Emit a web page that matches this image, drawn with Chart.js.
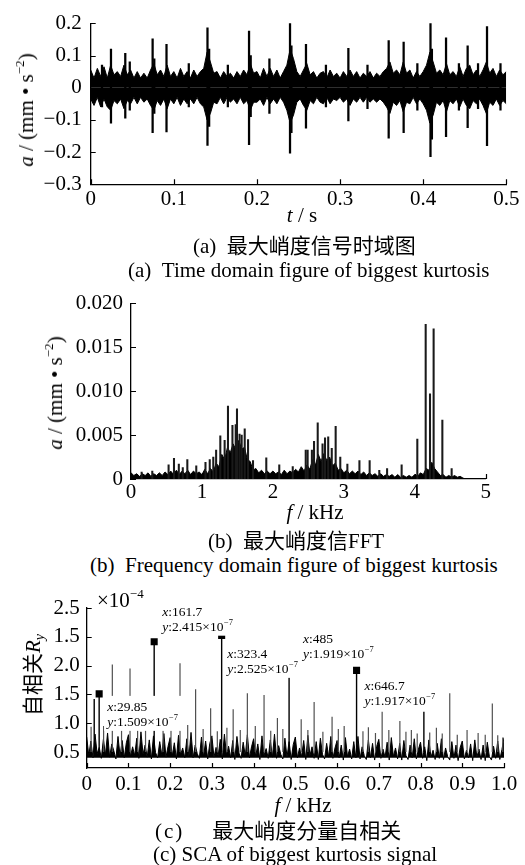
<!DOCTYPE html>
<html>
<head>
<meta charset="utf-8">
<script src="https://cdn.jsdelivr.net/npm/chart.js@4.4.1/dist/chart.umd.min.js"></script>
<style>
body { margin: 0; background: #fff; }
#page { position: relative; width: 525px; height: 865px; overflow: hidden;
        font-family: 'Liberation Serif', 'Noto Sans CJK SC', serif; color: #000; }
canvas { position: absolute; left: 0; }
.t { position: absolute; white-space: nowrap; font-size: 21px; line-height: 22px; }
.rot { transform: translate(-50%, -50%) rotate(-90deg); }
.ctr { transform: translateX(-50%); }
sup { font-size: 13px; vertical-align: 9px; line-height: 0; }
sub { font-size: 14px; vertical-align: -4px; line-height: 0; }
</style>
</head>
<body>
<div id="page">
  <canvas id="chartA" width="525" height="230" style="top:0px"></canvas>
  <canvas id="chartB" width="525" height="240" style="top:290px"></canvas>
  <canvas id="chartC" width="525" height="215" style="top:590px"></canvas>

  <div class="t rot" style="left:26px;top:110px"><i>a</i> / (mm • s<sup>−2</sup>)</div>
  <div class="t ctr" style="left:302px;top:204px"><i>t</i> / s</div>
  <div class="t" style="left:193px;top:235px">(a)&nbsp;&nbsp;最大峭度信号时域图</div>
  <div class="t" style="left:128px;top:259px">(a)&nbsp;&nbsp;Time domain figure of biggest kurtosis</div>

  <div class="t rot" style="left:55px;top:393px"><i>a</i> / (mm • s<sup>−2</sup>)</div>
  <div class="t ctr" style="left:315px;top:501px"><i>f</i> / kHz</div>
  <div class="t" style="left:208px;top:530px">(b)&nbsp;&nbsp;最大峭度信FFT</div>
  <div class="t" style="left:90px;top:554px">(b)&nbsp;&nbsp;Frequency domain figure of biggest kurtosis</div>

  <div class="t" style="left:97px;top:589px">×10<sup>−4</sup></div>
  <div class="t rot" style="left:33px;top:675px">自相关<i>R</i><sub><i>y</i></sub></div>
  <div class="t ctr" style="left:303px;top:794px"><i>f</i> / kHz</div>
  <div class="t" style="left:155px;top:820px"><span style="letter-spacing:2px">(c)</span><span style="margin-left:28px">最大峭度分量自相关</span></div>
  <div class="t" style="left:153px;top:843px">(c) SCA of biggest kurtosis signal</div>
</div>

<script>
// ============================================================
// (a) time signal: envelope columns every 4 ms + impulse spikes
// ============================================================
const stepA = 0.004;   // s
const upperA = [
  0.055, 0.03, 0.06, 0.035, 0.065, 0.03, 0.07, 0.04, 0.05, 0.035,
  0.07, 0.04, 0.055, 0.03, 0.05, 0.03, 0.045, 0.03, 0.055, 0.075,
  0.04, 0.055, 0.035, 0.07, 0.035, 0.05, 0.03, 0.06, 0.035, 0.05,
  0.03, 0.055, 0.035, 0.05, 0.06, 0.11, 0.08, 0.045, 0.05, 0.03,
  0.05, 0.035, 0.045, 0.03, 0.05, 0.035, 0.055, 0.04, 0.075, 0.045,
  0.05, 0.03, 0.06, 0.035, 0.06, 0.035, 0.055, 0.03, 0.05, 0.07,
  0.12, 0.09, 0.05, 0.035, 0.055, 0.075, 0.04, 0.05, 0.03, 0.045,
  0.05, 0.03, 0.055, 0.035, 0.045, 0.03, 0.05, 0.035, 0.055, 0.035,
  0.05, 0.03, 0.045, 0.035, 0.05, 0.03, 0.045, 0.035, 0.05, 0.06,
  0.08, 0.045, 0.055, 0.04, 0.08, 0.045, 0.055, 0.03, 0.05, 0.035,
  0.05, 0.07, 0.11, 0.08, 0.045, 0.055, 0.04, 0.075, 0.04, 0.05,
  0.035, 0.065, 0.035, 0.06, 0.07, 0.04, 0.055, 0.035, 0.055, 0.08,
  0.045, 0.06, 0.035, 0.055, 0.04, 0.05
];
const lowerA = [
  -0.035, -0.055, -0.03, -0.06, -0.035, -0.06, -0.07, -0.04, -0.05, -0.035,
  -0.065, -0.04, -0.05, -0.03, -0.05, -0.03, -0.045, -0.035, -0.055, -0.07,
  -0.04, -0.055, -0.035, -0.065, -0.035, -0.05, -0.03, -0.055, -0.035, -0.05,
  -0.035, -0.05, -0.03, -0.05, -0.06, -0.1, -0.08, -0.045, -0.05, -0.03,
  -0.05, -0.03, -0.045, -0.035, -0.05, -0.03, -0.05, -0.04, -0.07, -0.045,
  -0.045, -0.035, -0.055, -0.03, -0.05, -0.035, -0.05, -0.03, -0.045, -0.07,
  -0.11, -0.085, -0.045, -0.035, -0.055, -0.07, -0.04, -0.05, -0.03, -0.045,
  -0.05, -0.03, -0.05, -0.035, -0.04, -0.03, -0.045, -0.035, -0.055, -0.035,
  -0.045, -0.03, -0.045, -0.03, -0.045, -0.035, -0.045, -0.035, -0.045, -0.06,
  -0.08, -0.045, -0.055, -0.04, -0.075, -0.045, -0.05, -0.03, -0.05, -0.035,
  -0.05, -0.07, -0.11, -0.085, -0.045, -0.055, -0.04, -0.075, -0.04, -0.05,
  -0.035, -0.06, -0.035, -0.055, -0.065, -0.04, -0.05, -0.035, -0.055, -0.08,
  -0.045, -0.055, -0.035, -0.055, -0.04, -0.05
];
const spikeTimeA = [0.0136, 0.0244, 0.0416, 0.047, 0.0745, 0.0765, 0.0912, 0.118, 0.1405, 0.1425,
                    0.165, 0.1905, 0.1925, 0.215, 0.2398, 0.2415, 0.259, 0.283, 0.310, 0.333,
                    0.3585, 0.3765, 0.393, 0.4088, 0.4105, 0.4275, 0.443, 0.4535, 0.466, 0.4768, 0.493];
const spikeHighA = [0.07, 0.12, 0.107, 0.08, 0.152, 0.09, 0.135, 0.075, 0.186, 0.12,
                    0.07, 0.176, 0.1, 0.09, 0.202, 0.13, 0.135, 0.07, 0.122, 0.07,
                    0.146, 0.142, 0.075, 0.2, 0.12, 0.155, 0.075, 0.13, 0.075, 0.19, 0.075];
const spikeLowA = [-0.06, -0.11, -0.095, -0.07, -0.14, -0.08, -0.137, -0.06, -0.179, -0.12,
                   -0.06, -0.177, -0.09, -0.08, -0.203, -0.14, -0.126, -0.06, -0.103, -0.065,
                   -0.157, -0.14, -0.07, -0.214, -0.16, -0.152, -0.07, -0.124, -0.065, -0.18, -0.07];
const xTicksA = [0, 0.1, 0.2, 0.3, 0.4, 0.5];
const xLabelsA = ["0", "0.1", "0.2", "0.3", "0.4", "0.5"];
const yTicksA = [-0.3, -0.2, -0.1, 0, 0.1, 0.2];
const yLabelsA = ["−0.3", "−0.2", "−0.1", "0", "0.1", "0.2"];

// ============================================================
// (b) FFT: base spectrum every 0.04 kHz + discrete peaks
// ============================================================
const stepB = 0.04;    // kHz
const baseB = [
  0.0007, 0.0004, 0.0006, 0.0003, 0.0006, 0.0004, 0.0007, 0.0003, 0.0006, 0.0004,
  0.0007, 0.0004, 0.0008, 0.0005, 0.0009, 0.0005, 0.0010, 0.0005, 0.0009, 0.0006,
  0.0010, 0.0005, 0.0009, 0.0006, 0.0008, 0.0005, 0.0011, 0.0006, 0.0012, 0.0008,
  0.0018, 0.0014, 0.0028, 0.0022, 0.0036, 0.0030, 0.0040, 0.0033, 0.0044, 0.0034,
  0.0036, 0.0022, 0.0020, 0.0010, 0.0012, 0.0007, 0.0010, 0.0006, 0.0009, 0.0006,
  0.0009, 0.0006, 0.0008, 0.0005, 0.0010, 0.0006, 0.0009, 0.0007, 0.0011, 0.0008,
  0.0014, 0.0009, 0.0016, 0.0011, 0.0022, 0.0016, 0.0028, 0.0020, 0.0029, 0.0021,
  0.0025, 0.0015, 0.0018, 0.0010, 0.0012, 0.0007, 0.0010, 0.0006, 0.0009, 0.0006,
  0.0009, 0.0005, 0.0008, 0.0004, 0.0007, 0.0004, 0.0006, 0.0003, 0.0006, 0.0003,
  0.0005, 0.0003, 0.0005, 0.0002, 0.0005, 0.0002, 0.0004, 0.0002, 0.0004, 0.0002,
  0.0005, 0.0003, 0.0007, 0.0005, 0.0012, 0.0010, 0.0019, 0.0012, 0.0008, 0.0004,
  0.0005, 0.0002, 0.0004, 0.0002, 0.0004, 0.0002, 0.0003, 0.0001, 0.0000
];
const peakFreqB = [0.15, 0.30, 0.53, 0.606, 0.674, 0.73, 0.794, 0.92, 1.05, 1.11,
                   1.16, 1.20, 1.259, 1.32, 1.367, 1.43, 1.476, 1.494, 1.53, 1.56,
                   1.603, 1.65, 1.72, 1.907, 2.09, 2.28, 2.463, 2.49, 2.55, 2.58,
                   2.632, 2.70, 2.735, 2.78, 2.83, 2.885, 2.95, 3.05, 3.22, 3.364,
                   3.50, 3.61, 3.815, 4.036, 4.154, 4.215, 4.266, 4.389, 4.52];
const peakAmpB = [0.0008, 0.0009, 0.0016, 0.00235, 0.0017, 0.0013, 0.0022, 0.0015, 0.0019, 0.0022,
                  0.0025, 0.0033, 0.0049, 0.0044, 0.0083, 0.0061, 0.0062, 0.0080, 0.0051, 0.0050,
                  0.0057, 0.0045, 0.0021, 0.0024, 0.0016, 0.0014, 0.0033, 0.0033, 0.0033, 0.0043,
                  0.0064, 0.0040, 0.0047, 0.0048, 0.0035, 0.0060, 0.0025, 0.0017, 0.0021, 0.0021,
                  0.0010, 0.0012, 0.0016, 0.00455, 0.0176, 0.0097, 0.0171, 0.0067, 0.0012];
const xTicksB = [0, 1, 2, 3, 4, 5];
const xLabelsB = ["0", "1", "2", "3", "4", "5"];
const yTicksB = [0, 0.005, 0.010, 0.015, 0.020];
const yLabelsB = ["0", "0.005", "0.010", "0.015", "0.020"];

// ============================================================
// (c) autocorrelation spectrum: noise floor every 0.005 kHz + spikes
// ============================================================
const stepC = 0.005;   // kHz
const floorC = 0.40;   // lower edge of the noise floor
const baseC = [
  0.76, 0.44, 0.69, 0.40, 0.81, 0.47, 0.58, 0.39, 0.72, 0.45,
  0.83, 0.41, 0.64, 0.52, 0.38, 0.77, 0.43, 0.70, 0.40, 0.66,
  0.80, 0.42, 0.59, 0.44, 0.74, 0.39, 0.85, 0.46, 0.62, 0.41,
  0.71, 0.38, 0.78, 0.49, 0.40, 0.68, 0.44, 0.82, 0.41, 0.60,
  0.75, 0.43, 0.66, 0.38, 0.79, 0.45, 0.57, 0.40, 0.73, 0.42,
  0.84, 0.40, 0.62, 0.47, 0.39, 0.76, 0.42, 0.69, 0.38, 0.65,
  0.78, 0.41, 0.58, 0.43, 0.72, 0.38, 0.81, 0.45, 0.60, 0.40,
  0.70, 0.37, 0.77, 0.48, 0.39, 0.67, 0.43, 0.80, 0.40, 0.59,
  0.73, 0.42, 0.64, 0.37, 0.78, 0.44, 0.56, 0.39, 0.71, 0.41,
  0.81, 0.39, 0.61, 0.46, 0.38, 0.74, 0.41, 0.68, 0.37, 0.63,
  0.76, 0.40, 0.57, 0.42, 0.70, 0.37, 0.79, 0.44, 0.59, 0.39,
  0.68, 0.37, 0.74, 0.46, 0.38, 0.65, 0.41, 0.77, 0.39, 0.57,
  0.70, 0.40, 0.62, 0.36, 0.75, 0.42, 0.55, 0.38, 0.68, 0.40,
  0.77, 0.38, 0.59, 0.44, 0.37, 0.71, 0.40, 0.65, 0.36, 0.60,
  0.72, 0.39, 0.55, 0.41, 0.67, 0.36, 0.75, 0.42, 0.57, 0.38,
  0.65, 0.36, 0.70, 0.44, 0.37, 0.62, 0.40, 0.73, 0.38, 0.55,
  0.67, 0.39, 0.59, 0.35, 0.71, 0.41, 0.53, 0.37, 0.65, 0.39,
  0.73, 0.37, 0.57, 0.42, 0.36, 0.68, 0.39, 0.62, 0.35, 0.58,
  0.69, 0.38, 0.53, 0.40, 0.64, 0.35, 0.71, 0.41, 0.55, 0.37,
  0.62, 0.35, 0.67, 0.42, 0.36, 0.60, 0.39, 0.69, 0.37, 0.54,
  0.75
];
// harmonics of the 161.7 Hz fault frequency (drawn black)
const darkSpikeF = [0.018, 0.02985, 0.1617, 0.3234, 0.485, 0.6467, 0.808];
const darkSpikeV = [1.42, 1.509, 2.415, 2.525, 1.82, 1.917, 1.20];
// remaining peaks (drawn grey)
const greySpikeF = [0.0105, 0.0405, 0.0614, 0.0835, 0.1038, 0.122, 0.141, 0.183, 0.202, 0.2236,
                    0.242, 0.261, 0.279, 0.297, 0.313, 0.336, 0.351, 0.368, 0.385, 0.404,
                    0.425, 0.441, 0.457, 0.470, 0.514, 0.530, 0.545, 0.566, 0.588, 0.603,
                    0.617, 0.662, 0.675, 0.692, 0.708, 0.724, 0.7505, 0.765, 0.778, 0.792,
                    0.822, 0.838, 0.852, 0.870, 0.888, 0.9115, 0.938, 0.955, 0.972, 0.985, 0.997];
const greySpikeV = [0.94, 0.95, 2.02, 0.92, 1.95, 0.90, 1.00, 0.88, 0.93, 2.04,
                    0.97, 1.59, 0.90, 1.26, 0.86, 0.92, 1.24, 0.88, 1.52, 0.95,
                    1.49, 0.87, 1.09, 0.90, 1.07, 0.88, 1.37, 0.85, 1.11, 0.90,
                    0.95, 0.86, 0.93, 0.83, 1.20, 0.88, 1.04, 0.85, 0.88, 0.82,
                    0.84, 0.92, 0.82, 1.52, 0.80, 0.88, 0.83, 0.80, 1.34, 0.79, 0.75];
// data tips (values as printed on the figure)
const tipFreqC = [0.02985, 0.1617, 0.3234, 0.485, 0.6467];
const tipValC = [1.509, 2.415, 2.525, 1.919, 1.917];
const tipXText = ["29.85", "161.7", "323.4", "485", "646.7"];
const tipYText = ["1.509", "2.415", "2.525", "1.919", "1.917"];
const tipMarker = [true, true, true, false, true];
const xTicksC = [0, 0.1, 0.2, 0.3, 0.4, 0.5, 0.6, 0.7, 0.8, 0.9, 1.0];
const xLabelsC = ["0", "0.1", "0.2", "0.3", "0.4", "0.5", "0.6", "0.7", "0.8", "0.9", "1.0"];
const yTicksC = [0.5, 1.0, 1.5, 2.0, 2.5, 3.0];
const yLabelsC = ["0.5", "1.0", "1.5", "2.0", "1.5", "2.5"];   // as printed

// ============================================================
// helpers
// ============================================================
Chart.defaults.font.family = "'Liberation Serif', 'Times New Roman', serif";
Chart.defaults.font.size = 21;
Chart.defaults.color = "#000";

function gridPoints(step, values) {
    return values.map((v, i) => ({ x: +(i * step).toFixed(5), y: v }));
}

// vertical strokes from the noise floor up to each peak, broken by nulls
function stems(freqs, tops, base) {
    const pts = [];
    freqs.forEach((f, i) => {
        pts.push({ x: f, y: base }, { x: f, y: tops[i] }, { x: f, y: null });
    });
    return pts;
}

// small inward tick marks, like the MATLAB axes
const inwardTicks = {
    id: "inwardTicks",
    afterDraw(chart) {
        const { ctx, chartArea: a, scales: { x, y } } = chart;
        ctx.save();
        ctx.strokeStyle = "#000";
        ctx.lineWidth = 1.2;
        ctx.beginPath();
        x.ticks.forEach(t => {
            const p = Math.round(x.getPixelForValue(t.value)) + 0.5;
            ctx.moveTo(p, a.bottom);
            ctx.lineTo(p, a.bottom - 5);
        });
        y.ticks.forEach(t => {
            const p = Math.round(y.getPixelForValue(t.value)) + 0.5;
            ctx.moveTo(a.left, p);
            ctx.lineTo(a.left + 5, p);
        });
        ctx.stroke();
        ctx.restore();
    }
};

function axis(ticks, labels, min, max, fitSize, pad, horizontal) {
    return {
        type: "linear",
        offset: false,
        min: min,
        max: max,
        afterBuildTicks: s => { s.ticks = ticks.map(v => ({ value: v })); },
        afterFit: s => {
            if (horizontal) { s.height = fitSize; s.paddingLeft = 0; s.paddingRight = 0; }
            else { s.width = fitSize; s.paddingTop = 0; s.paddingBottom = 0; }
        },
        ticks: {
            callback: (v, i) => labels[i],
            padding: pad,
            autoSkip: false,
            maxRotation: 0,
            minRotation: 0
        },
        grid: { display: false, drawTicks: false },
        border: { display: true, color: "#000", width: 1.3 }
    };
}

function makeChart(id, datasets, cfg, extraPlugins) {
    return new Chart(document.getElementById(id), {
        type: "bar",
        data: { datasets: datasets },
        options: {
            responsive: false,
            animation: false,
            layout: { padding: { left: 0, right: cfg.padRight, top: cfg.padTop, bottom: 0 } },
            plugins: { legend: { display: false }, tooltip: { enabled: false } },
            scales: {
                x: axis(cfg.xTicks, cfg.xLabels, cfg.xMin, cfg.xMax, cfg.xHeight, cfg.xPad, true),
                y: axis(cfg.yTicks, cfg.yLabels, cfg.yMin, cfg.yMax, cfg.yWidth, cfg.yPad, false)
            }
        },
        plugins: [inwardTicks].concat(extraPlugins || [])
    });
}

// ============================================================
// (a)
// ============================================================
makeChart("chartA", [
    {
        type: "bar",
        data: spikeTimeA.map((t, i) => ({ x: t, y: [spikeLowA[i], spikeHighA[i]] })),
        backgroundColor: "#000",
        barThickness: 1.6
    },
    {
        type: "line",
        data: gridPoints(stepA, upperA),
        borderColor: "#000", borderWidth: 1, backgroundColor: "#000",
        fill: "origin", pointRadius: 0, tension: 0
    },
    {
        type: "line",
        data: gridPoints(stepA, lowerA),
        borderColor: "#000", borderWidth: 1, backgroundColor: "#000",
        fill: "origin", pointRadius: 0, tension: 0
    }
], {
    xTicks: xTicksA, xLabels: xLabelsA, xMin: 0, xMax: 0.5, xHeight: 45.7, xPad: 3,
    yTicks: yTicksA, yLabels: yLabelsA, yMin: -0.3, yMax: 0.2, yWidth: 90.7, yPad: 9,
    padTop: 23.3, padRight: 18.7
});

// ============================================================
// (b)
// ============================================================
makeChart("chartB", [
    {
        type: "bar",
        data: peakFreqB.map((f, i) => ({ x: f, y: peakAmpB[i] })),
        backgroundColor: "#1a1a1a",
        barThickness: 1.4
    },
    {
        type: "line",
        data: gridPoints(stepB, baseB),
        borderColor: "#000", borderWidth: 1, backgroundColor: "#000",
        fill: "origin", pointRadius: 0, tension: 0
    }
], {
    xTicks: xTicksB, xLabels: xLabelsB, xMin: 0, xMax: 5, xHeight: 51, xPad: 1,
    yTicks: yTicksB, yLabels: yLabelsB, yMin: 0, yMax: 0.02, yWidth: 131, yPad: 8,
    padTop: 13.3, padRight: 39.3
});

// ============================================================
// (c)
// ============================================================
function drawTipText(ctx, letter, rest, sup, x, y) {
    ctx.font = "italic 13.5px 'Liberation Serif'";
    ctx.fillText(letter, x, y);
    x += ctx.measureText(letter).width;
    ctx.font = "13.5px 'Liberation Serif'";
    ctx.fillText(rest, x, y);
    x += ctx.measureText(rest).width;
    if (sup) {
        ctx.font = "8.5px 'Liberation Serif'";
        ctx.fillText(sup, x + 0.5, y - 6);
        x += ctx.measureText(sup).width + 0.5;
    }
    return x;
}

// offsets of the white data-tip boxes from their anchor points
const tipBoxes = [
    { dx: 5, dy: 2 }, { dx: 5, dy: -41 }, { dx: 2.5, dy: 7.5 }, { dx: 11, dy: -42 }, { dx: 5, dy: 5 }
];

const dataTips = {
    id: "dataTips",
    afterDatasetsDraw(chart) {
        const { ctx, scales: { x, y } } = chart;
        ctx.save();
        ctx.textAlign = "left";
        ctx.textBaseline = "alphabetic";
        tipFreqC.forEach((f, i) => {
            const bx = x.getPixelForValue(f) + tipBoxes[i].dx;
            const by = y.getPixelForValue(tipValC[i]) + tipBoxes[i].dy;
            ctx.font = "13.5px 'Liberation Serif'";
            const w = ctx.measureText("y:" + tipYText[i] + "×10").width + 12;
            ctx.fillStyle = "#fff";
            ctx.fillRect(bx, by, w + 6, 35);
            ctx.fillStyle = "#000";
            drawTipText(ctx, "x", ":" + tipXText[i], null, bx + 3, by + 15);
            drawTipText(ctx, "y", ":" + tipYText[i] + "×10", "−7", bx + 3, by + 30);
        });
        ctx.restore();
    }
};

makeChart("chartC", [
    {
        type: "scatter",
        data: tipFreqC.map((f, i) => ({ x: f, y: tipValC[i] })).filter((p, i) => tipMarker[i]),
        pointStyle: "rect",
        pointRadius: 5,
        pointBorderWidth: 0,
        backgroundColor: "#000",
        borderColor: "#000",
        showLine: false
    },
    {
        type: "line",
        data: stems(darkSpikeF, darkSpikeV, 0.5),
        borderColor: "#000",
        borderWidth: 1.4,
        pointRadius: 0,
        spanGaps: false,
        fill: false
    },
    {
        type: "line",
        data: stems(greySpikeF, greySpikeV, 0.5),
        borderColor: "#505050",
        borderWidth: 1.2,
        pointRadius: 0,
        spanGaps: false,
        fill: false
    },
    {
        type: "line",
        data: gridPoints(stepC, baseC),
        borderColor: "#000",
        borderWidth: 1,
        backgroundColor: "#000",
        pointRadius: 0,
        tension: 0,
        fill: { value: floorC }
    }
], {
    xTicks: xTicksC, xLabels: xLabelsC, xMin: 0, xMax: 1.0, xHeight: 37, xPad: 4,
    yTicks: yTicksC, yLabels: yLabelsC, yMin: 0.222, yMax: 3.0, yWidth: 86.7, yPad: 7,
    padTop: 18, padRight: 21
}, [dataTips]);
</script>
</body>
</html>
